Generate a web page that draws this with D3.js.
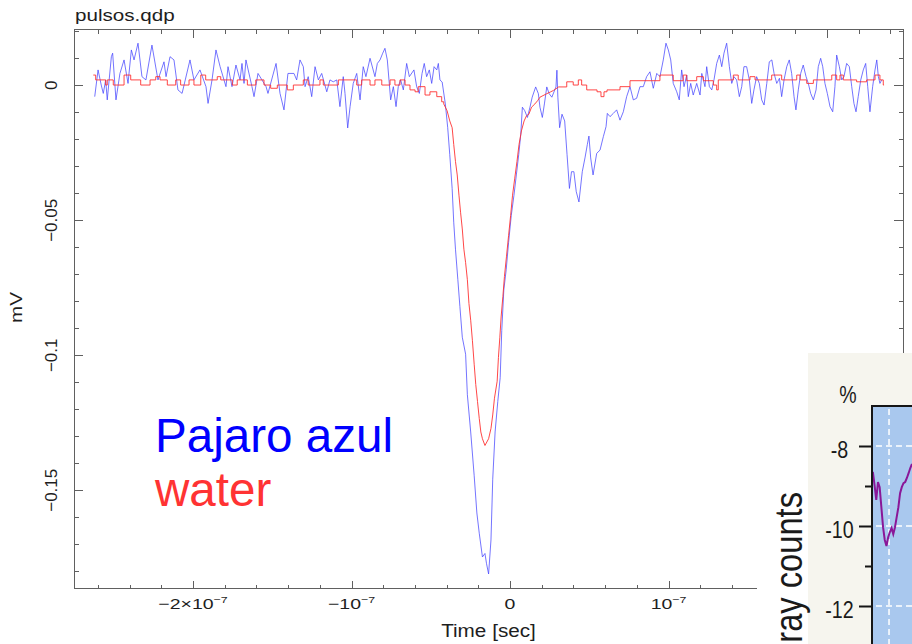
<!DOCTYPE html>
<html><head><meta charset="utf-8">
<script src="https://cdn.jsdelivr.net/npm/d3@7/dist/d3.min.js"></script>
<style>html,body{margin:0;padding:0;background:#fff;}svg{display:block;}</style>
</head><body>
<svg id="chart" width="912" height="644"></svg>
<script>
// ---- data (time in ns, voltage in mV) ----
const blueT = [-262.0,-259.9,-257.9,-256.6,-255.1,-254.1,-251.5,-250.7,-248.6,-246.1,-243.5,-241.0,-238.9,-237.2,-234.7,-232.2,-229.7,-225.9,-222.1,-218.3,-217.0,-214.5,-212.0,-209.5,-206.9,-201.9,-199.4,-195.6,-191.8,-190.5,-188.0,-185.5,-182.9,-179.2,-177.9,-175.4,-172.9,-170.3,-169.1,-167.8,-166.6,-162.8,-161.5,-159.0,-153.9,-152.7,-147.6,-145.1,-142.6,-140.1,-136.3,-134.6,-132.5,-130.4,-129.3,-127.3,-125.1,-123.0,-120.9,-118.8,-115.6,-113.6,-111.5,-109.3,-107.3,-105.2,-104.1,-102.4,-100.9,-98.9,-96.7,-94.6,-92.6,-90.9,-88.3,-85.2,-83.7,-82.0,-80.3,-78.9,-77.4,-75.3,-73.6,-71.9,-70.5,-69.0,-67.3,-65.2,-63.5,-60.6,-58.9,-57.2,-55.5,-54.1,-52.6,-50.9,-49.4,-47.9,-46.2,-45.2,-44.2,-42.8,
-40.8,-39.3,-38.0,-36.5,-35.5,-34.4,-32.9,-31.6,-30.1,-28.0,-26.9,-24.8,-22.6,-20.9,-19.4,-17.4,-15.8,-14.8,-13.5,-12.0,-10.9,-9.4,-7.7,-6.2,-5.2,-3.9,-2.4,-0.9,0.8,2.5,4.0,5.5,6.8,7.8,9.3,11.0,12.6,14.0,16.2,17.9,18.9,20.4,21.7,23.2,24.7,26.4,29.0,29.6,30.2,31.3,32.8,34.5,36.0,37.5,38.8,40.3,41.8,43.5,45.6,47.3,48.8,49.8,50.9,52.4,
54.7,56.8,58.9,60.6,61.4,63.1,65.2,67.3,69.4,71.5,73.6,75.7,77.8,79.9,82.0,84.1,86.2,88.3,90.4,92.6,94.6,96.7,98.4,99.9,101.4,103.0,105.2,106.8,108.3,109.8,111.5,112.5,114.0,115.6,117.8,119.9,121.0,123.0,124.1,125.8,127.3,128.7,130.4,132.1,133.6,135.0,136.7,138.4,139.9,141.3,143.0,144.7,146.2,147.6,149.3,151.0,152.5,153.9,155.6,157.3,158.8,160.3,162.0,163.6,165.2,166.6,168.3,170.0,171.4,172.9,174.6,176.2,177.7,179.2,180.4,181.9,183.4,185.0,186.8,188.2,189.7,191.4,193.1,194.5,196.0,197.3,198.7,200.2,201.9,203.6,205.0,206.1,207.8,209.3,210.7,212.4,214.1,215.6,217.0,218.3,219.7,221.3,222.9,224.4,225.7,227.1,228.8,230.3,231.4,232.4,233.4,234.5];
const blueV = [-0.0042,0.0057,0.0001,-0.0030,0.0020,-0.0054,0.0106,0.0119,-0.0054,0.0044,0.0094,0.0007,0.0131,0.0094,0.0156,0.0032,0.0020,0.0149,0.0020,0.0087,0.0032,0.0106,0.0094,-0.0017,-0.0030,0.0094,0.0020,0.0057,-0.0005,-0.0067,0.0020,0.0131,0.0069,-0.0005,0.0069,-0.0005,0.0075,0.0020,0.0081,0.0007,0.0094,-0.0005,-0.0042,0.0044,-0.0005,-0.0030,0.0081,-0.0030,-0.0091,0.0044,0.0044,0.0020,0.0094,0.0069,-0.0005,0.0032,-0.0042,0.0069,0.0020,0.0044,-0.0024,0.0020,0.0013,0.0020,-0.0079,0.0032,-0.0030,-0.0158,-0.0079,0.0007,0.0044,-0.0054,0.0069,0.0032,0.0100,0.0032,0.0081,0.0094,0.0119,0.0137,0.0094,-0.0054,-0.0005,-0.0079,-0.0005,0.0020,-0.0017,0.0081,0.0032,0.0057,-0.0005,-0.0030,0.0044,0.0081,0.0032,0.0057,0.0007,0.0069,0.0057,0.0081,0.0020,0.0012,
-0.0069,-0.0157,-0.0257,-0.0382,-0.0507,-0.0607,-0.0720,-0.0820,-0.0933,-0.0996,-0.1146,-0.1284,-0.1446,-0.1584,-0.1659,-0.1747,-0.1734,-0.1772,-0.1810,-0.1684,-0.1459,-0.1284,-0.1171,-0.1083,-0.0908,-0.0758,-0.0683,-0.0583,-0.0482,-0.0407,-0.0332,-0.0257,-0.0182,-0.0081,-0.0094,-0.0119,-0.0081,-0.0044,-0.0006,-0.0031,-0.0081,-0.0119,-0.0069,-0.0006,-0.0031,-0.0044,-0.0006,0.0056,-0.0044,-0.0157,-0.0107,-0.0132,-0.0257,-0.0382,-0.0320,-0.0320,-0.0394,-0.0432,-0.0320,-0.0269,-0.0219,-0.0188,-0.0269,-0.0332,
-0.0252,-0.0240,-0.0190,-0.0153,-0.0104,-0.0116,-0.0104,-0.0091,-0.0129,-0.0098,-0.0042,-0.0005,-0.0054,-0.0048,-0.0005,-0.0005,0.0032,0.0050,-0.0011,0.0044,0.0032,0.0094,0.0156,0.0131,0.0094,0.0007,-0.0024,-0.0054,0.0057,-0.0005,0.0038,-0.0042,0.0007,-0.0036,0.0007,-0.0036,0.0044,-0.0005,0.0069,-0.0005,-0.0017,0.0020,0.0081,0.0112,0.0069,0.0119,0.0156,0.0069,0.0007,0.0032,0.0020,-0.0042,-0.0005,0.0069,0.0069,0.0020,-0.0067,-0.0017,0.0032,0.0007,-0.0054,-0.0073,0.0007,0.0087,0.0094,0.0044,0.0007,0.0026,-0.0042,0.0020,0.0069,0.0094,0.0044,-0.0042,-0.0091,-0.0017,0.0044,0.0075,0.0032,0.0007,-0.0030,-0.0054,-0.0017,0.0069,0.0100,0.0069,0.0007,-0.0030,-0.0079,-0.0098,-0.0005,0.0112,0.0069,0.0020,0.0032,0.0081,0.0069,-0.0005,-0.0067,-0.0098,-0.0042,0.0020,0.0057,0.0081,-0.0005,-0.0098,-0.0005,0.0057,0.0094,0.0032,0.0007,0.0020];

const redT = [-262.9,-261.4,-255.1,-254.1,-250.3,-243.5,-239.3,-233.0,-227.1,-223.5,-220.8,-216.2,-210.9,-207.8,-202.5,-199.4,-195.1,-192.0,-184.7,-182.5,-175.2,-172.1,-165.7,-160.4,-155.2,-151.0,-146.8,-140.5,-136.7,-130.4,-127.3,-119.9,-117.8,-108.3,-96.7,-93.6,-88.3,-85.2,-80.9,-75.7,-72.6,-69.4,-66.2,-63.1,-59.9,-57.9,-53.6,-50.5,-46.2,-43.1,
-41.8,-39.7,-38.0,-36.5,-35.5,-34.4,-33.3,-32.2,-31.2,-30.1,-29.1,-28.0,-26.9,-25.9,-24.8,-23.7,-22.6,-21.6,-20.5,-19.4,-18.4,-17.4,-15.8,-13.5,-12.0,-10.9,-9.8,-8.1,-7.3,-6.4,-5.6,-4.5,-3.5,-2.2,-0.9,0.4,1.6,3.0,4.4,5.7,7.2,8.9,10.4,11.9,13.6,15.7,17.4,18.9,23.2,25.4,27.4,30.7,
35.8,39.9,43.1,45.2,48.4,54.9,57.4,59.3,61.2,69.4,75.7,94.6,103.0,109.3,111.5,117.8,122.0,128.3,130.4,131.4,140.9,144.0,151.4,154.6,165.1,167.2,171.4,180.9,183.0,187.2,191.4,203.0,206.1,208.2,210.3,218.7,225.0,230.3,233.4,235.5,236.0];
const redV = [0.0038,0.0020,0.0001,0.0020,0.0001,0.0038,0.0020,0.0001,0.0020,0.0032,0.0020,0.0001,0.0020,0.0001,0.0020,0.0001,0.0038,0.0020,0.0032,0.0020,0.0001,0.0020,0.0001,0.0020,0.0001,-0.0011,0.0001,-0.0017,0.0001,0.0020,0.0001,0.0020,0.0001,0.0020,0.0001,0.0020,0.0001,0.0020,0.0001,0.0020,0.0001,0.0020,0.0001,-0.0017,-0.0024,-0.0005,-0.0036,-0.0024,-0.0042,-0.0061,
-0.0069,-0.0094,-0.0132,-0.0157,-0.0219,-0.0282,-0.0332,-0.0407,-0.0470,-0.0532,-0.0607,-0.0657,-0.0720,-0.0808,-0.0870,-0.0946,-0.1033,-0.1108,-0.1171,-0.1234,-0.1284,-0.1309,-0.1334,-0.1309,-0.1271,-0.1221,-0.1159,-0.1096,-0.1008,-0.0933,-0.0858,-0.0783,-0.0708,-0.0633,-0.0557,-0.0482,-0.0407,-0.0344,-0.0282,-0.0219,-0.0169,-0.0132,-0.0113,-0.0107,-0.0081,-0.0069,-0.0057,-0.0044,-0.0031,-0.0025,-0.0019,-0.0006,
0.0013,0.0001,0.0020,0.0001,-0.0017,-0.0024,-0.0042,-0.0024,-0.0017,-0.0005,0.0017,0.0038,0.0017,0.0038,0.0017,0.0032,0.0017,0.0001,-0.0017,0.0020,0.0038,0.0020,0.0032,0.0020,0.0038,0.0038,0.0020,0.0038,0.0020,0.0007,0.0020,0.0038,0.0020,0.0038,0.0020,0.0013,0.0020,0.0038,0.0020,0.0001,0.0001];

const xTickValues = [-200, -100, 0, 100];
const xTickBase = ["\u22122\u00d710", "\u221210", "0", "10"];
const xTickSup = ["\u22127", "\u22127", "", "\u22127"];
const yTickValues = [0, -0.05, -0.1, -0.15];
const yTickLabels = ["0", "\u22120.05", "\u22120.1", "\u22120.15"];
const legendNames = ["Pajaro azul", "water"];

// inset (pasted second figure)
const insetX = [1,2,3,4,5,6,7,8,9,10,11,12,13,14,15,16,17,18,19,20,21,22,23,24];
const insetV = [-8.65,-8.98,-9.35,-8.90,-9.03,-9.53,-10.03,-10.35,-10.50,-10.28,-10.15,-10.05,-10.20,-10.03,-9.78,-9.53,-9.18,-9.03,-8.93,-8.90,-8.80,-8.68,-8.55,-8.45];
const insetTickValues = [-8, -10, -12];
const insetTickLabels = ["-8", "-10", "-12"];
const insetMinorValues = [-9, -11];
const insetGridX = [10.5];

// ---- drawing ----
const svg = d3.select("#chart");
const L = 74, R = 903, T = 29.5, B = 588.5;
const FONT = "'Liberation Sans', Arial, Helvetica, sans-serif";
const frameColor = "#606060";

const x = d3.scaleLinear().domain([-275.08, 247.95]).range([L, R]);
const y = d3.scaleLinear().domain([0.02067, -0.18637]).range([T, B]);

svg.append("clipPath").attr("id", "plotclip").append("rect")
  .attr("x", L).attr("y", T).attr("width", R - L).attr("height", B - T);

const xMajor = [-200, -100, 0, 100, 200];
const xMinor = d3.range(-260, 241, 20).filter(v => v % 100 !== 0);
const yMajor = [0, -0.05, -0.1, -0.15];
const yMinor = d3.range(-18, 3, 1).map(v => v / 100).filter(v => Math.round(v * 100) % 5 !== 0);

function styleAxis(g) {
  g.select(".domain").remove();
  g.selectAll("line").attr("stroke", frameColor).attr("stroke-width", 1);
  g.selectAll("text").remove();
}
const axes = svg.append("g").attr("shape-rendering", "crispEdges");
axes.append("g").attr("transform", `translate(0,${B})`).call(d3.axisBottom(x).tickValues(xMajor).tickSize(-8)).call(styleAxis);
axes.append("g").attr("transform", `translate(0,${B})`).call(d3.axisBottom(x).tickValues(xMinor).tickSize(-4)).call(styleAxis);
axes.append("g").attr("transform", `translate(0,${T})`).call(d3.axisTop(x).tickValues(xMajor).tickSize(-8)).call(styleAxis);
axes.append("g").attr("transform", `translate(0,${T})`).call(d3.axisTop(x).tickValues(xMinor).tickSize(-4)).call(styleAxis);
axes.append("g").attr("transform", `translate(${L},0)`).call(d3.axisLeft(y).tickValues(yMajor).tickSize(-9)).call(styleAxis);
axes.append("g").attr("transform", `translate(${L},0)`).call(d3.axisLeft(y).tickValues(yMinor).tickSize(-4.5)).call(styleAxis);
axes.append("g").attr("transform", `translate(${R},0)`).call(d3.axisRight(y).tickValues(yMajor).tickSize(-9)).call(styleAxis);
axes.append("g").attr("transform", `translate(${R},0)`).call(d3.axisRight(y).tickValues(yMinor).tickSize(-4.5)).call(styleAxis);
axes.append("rect").attr("x", L).attr("y", T).attr("width", R - L).attr("height", B - T)
  .attr("fill", "none").attr("stroke", frameColor).attr("stroke-width", 1);

// traces
const blueData = blueT.map((t, i) => [t, blueV[i]]);
const redData = redT.map((t, i) => [t, redV[i]]);
const traces = svg.append("g").attr("clip-path", "url(#plotclip)");
traces.append("path").datum(blueData)
  .attr("d", d3.line().x(d => x(d[0])).y(d => y(d[1])))
  .attr("fill", "none").attr("stroke", "#4848ff").attr("stroke-width", 0.95).attr("stroke-opacity", 0.8);
// water: stepped baseline, smooth pulse between the two boundary times
const pulseStart = -41.8, pulseEnd = 30.7;
const stepLine = d3.line().curve(d3.curveStepAfter).x(d => x(d[0])).y(d => y(d[1]));
const linLine = d3.line().x(d => x(d[0])).y(d => y(d[1]));
const redParts = [
  {d: redData.filter(d => d[0] <= pulseStart), gen: stepLine},
  {d: redData.filter(d => d[0] >= pulseStart && d[0] <= pulseEnd), gen: linLine},
  {d: redData.filter(d => d[0] >= pulseEnd), gen: stepLine}
];
redParts.forEach(p => {
  traces.append("path").datum(p.d).attr("d", p.gen)
    .attr("fill", "none").attr("stroke", "#ff2e2e").attr("stroke-width", 1).attr("stroke-opacity", 0.88);
});

// tick labels
const textColor = "#1e1e1e";
xTickValues.forEach((v, i) => {
  const g = svg.append("g").attr("transform", `translate(${x(v)},609) scale(1.3,1)`);
  const t = g.append("text").attr("text-anchor", "middle").attr("font-family", FONT)
    .attr("font-size", 15).attr("fill", textColor);
  t.append("tspan").text(xTickBase[i]);
  if (xTickSup[i]) t.append("tspan").attr("font-size", 9.5).attr("dy", -6).text(xTickSup[i]);
});
yTickValues.forEach((v, i) => {
  svg.append("text").attr("transform", `translate(57,${y(v)}) rotate(-90)`)
    .attr("text-anchor", "middle").attr("font-family", FONT).attr("font-size", 17)
    .attr("fill", textColor).text(yTickLabels[i]);
});

// titles
svg.append("text").attr("transform", "translate(75,20.5) scale(1.25,1)")
  .attr("font-family", FONT).attr("font-size", 16.5).attr("fill", textColor).text("pulsos.qdp");
svg.append("text").attr("transform", "translate(488.5,637) scale(1.12,1)")
  .attr("text-anchor", "middle").attr("font-family", FONT).attr("font-size", 18.5)
  .attr("fill", textColor).text("Time [sec]");
svg.append("text").attr("transform", "translate(22,307.5) rotate(-90) scale(1.25,1)")
  .attr("text-anchor", "middle").attr("font-family", FONT).attr("font-size", 16.5)
  .attr("fill", textColor).text("mV");

// legend
const legendColors = ["#0000ff", "#ff3333"];
const legendY = [452, 505.5];
legendNames.forEach((n, i) => {
  svg.append("text").attr("x", 155).attr("y", legendY[i]).attr("font-family", FONT)
    .attr("font-size", 47.6).attr("fill", legendColors[i]).text(n);
});

// ---- inset ----
const ins = svg.append("g");
ins.append("rect").attr("x", 757).attr("y", 353).attr("width", 160).attr("height", 300).attr("fill", "#ffffff");
ins.append("rect").attr("x", 808).attr("y", 353).attr("width", 110).attr("height", 300).attr("fill", "#f6f5ee");
const ix = d3.scaleLinear().domain([0.5, 24]).range([872, 912]);
const iy = d3.scaleLinear().domain([-8, -10]).range([446, 526]);
ins.append("clipPath").attr("id", "insclip").append("rect")
  .attr("x", 872).attr("y", 406).attr("width", 60).attr("height", 260);
ins.append("rect").attr("x", 872).attr("y", 406).attr("width", 60).attr("height", 260)
  .attr("fill", "#a9c8ee");
const ig = ins.append("g").attr("clip-path", "url(#insclip)");
insetTickValues.forEach(v => {
  ig.append("line").attr("x1", 873).attr("x2", 920).attr("y1", iy(v)).attr("y2", iy(v))
    .attr("stroke", "#ffffff").attr("stroke-width", 1.5).attr("stroke-dasharray", "6,4").attr("stroke-dashoffset", -3);
});
insetGridX.forEach(v => {
  ig.append("line").attr("x1", ix(v)).attr("x2", ix(v)).attr("y1", 407).attr("y2", 650)
    .attr("stroke", "#ffffff").attr("stroke-width", 1.5).attr("stroke-dasharray", "6,4").attr("stroke-dashoffset", -2);
});
ig.append("path").datum(insetX.map((d, i) => [d, insetV[i]]))
  .attr("d", d3.line().x(d => ix(d[0])).y(d => iy(d[1])))
  .attr("fill", "none").attr("stroke", "#8a1798").attr("stroke-width", 2);
ins.append("path").attr("d", `M872,660 V406 H920`).attr("fill", "none").attr("stroke", "#151515").attr("stroke-width", 2);

function styleInsAxis(g) {
  g.select(".domain").remove();
  g.selectAll("line").attr("stroke", "#151515").attr("stroke-width", 2);
  g.selectAll("text").remove();
}
ins.append("g").attr("transform", "translate(871,0)").call(d3.axisLeft(iy).tickValues(insetTickValues).tickSize(12)).call(styleInsAxis);
ins.append("g").attr("transform", "translate(871,0)").call(d3.axisLeft(iy).tickValues(insetMinorValues).tickSize(6)).call(styleInsAxis);
insetTickValues.forEach((v, i) => {
  ins.append("text").attr("transform", `translate(839.5,${iy(v) + 11.5}) scale(0.82,1)`)
    .attr("text-anchor", "middle").attr("font-family", FONT).attr("font-size", 24)
    .attr("fill", "#1a1a1a").text(insetTickLabels[i]);
});
ins.append("text").attr("transform", "translate(848,403) scale(0.85,1)")
  .attr("text-anchor", "middle").attr("font-family", FONT).attr("font-size", 23)
  .attr("fill", "#1a1a1a").text("%");
ins.append("text").attr("transform", "translate(802,492) rotate(-90) scale(0.86,1)")
  .attr("text-anchor", "end").attr("font-family", FONT).attr("font-size", 38)
  .attr("fill", "#1a1a1a").text("ray counts");
</script>
</body></html>
